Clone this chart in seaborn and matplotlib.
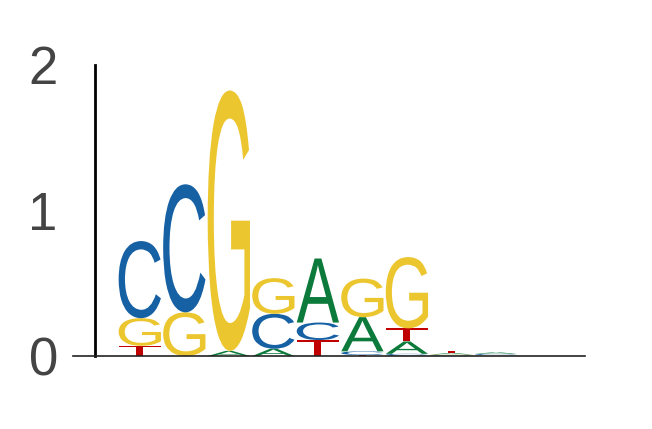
import numpy as np
import pandas as pd
import matplotlib
matplotlib.use('Agg')
from matplotlib import pyplot as plt
import seaborn as sns
from matplotlib.textpath import TextPath
from matplotlib.patches import PathPatch
from matplotlib.font_manager import FontProperties
from matplotlib.transforms import Affine2D

# letter heights (bits) for positions 1..10
positions = [1, 2, 3, 4, 5, 6, 7, 8, 9, 10]
A = [0.0, 0.0, 0.035, 0.05, 0.44, 0.235, 0.085, 0.01, 0.01, 0.0]
C = [0.53, 0.88, 0.0, 0.24, 0.12, 0.025, 0.015, 0.005, 0.008, 0.0]
G = [0.19, 0.30, 1.79, 0.245, 0.0, 0.265, 0.49, 0.005, 0.004, 0.0]
T = [0.07, 0.0, 0.0, 0.0, 0.11, 0.007, 0.09, 0.015, 0.003, 0.0]
yticks = [0, 1, 2]

df = pd.DataFrame({'A': A, 'C': C, 'G': G, 'T': T}, index=positions)
colors = {'A': '#0b7a3a', 'C': '#1660a4', 'G': '#ecc62f', 'T': '#c00000'}

sns.set_theme(style='white')
plt.rcParams['font.family'] = ['Liberation Sans', 'DejaVu Sans']

fig = plt.figure(figsize=(6.52, 4.29), dpi=100)
ax = fig.add_axes([73/652, 73/429, 512/652, 291/429])

fp = FontProperties(family='Liberation Sans')
width = 0.95

def draw_letter(ax, ch, x, y0, h, color):
    tp = TextPath((0, 0), ch, size=1, prop=fp)
    bb = tp.get_extents()
    tr = Affine2D().translate(-bb.x0, -bb.y0).scale(width / bb.width, h / bb.height).translate(x - width / 2, y0)
    ax.add_patch(PathPatch(tr.transform_path(tp), fc=color, ec='none', lw=0))

for pos, row in df.iterrows():
    y0 = 0
    for ch, h in row.sort_values().items():
        if h <= 0:
            continue
        draw_letter(ax, ch, pos, y0, h, colors[ch])
        y0 += h

ax.set_xlim(-0.5, 11)
ax.set_ylim(0, 2)
ax.set_xticks([])
ax.set_yticks(yticks)
ax.set_yticklabels([str(v) for v in yticks])
ax.tick_params(axis='y', length=0, pad=27, labelsize=38, labelcolor='#444444')
sns.despine(ax=ax, top=True, right=True)
ax.spines['left'].set_position(('data', 0))
ax.spines['left'].set_linewidth(2)
ax.spines['left'].set_color('black')
ax.spines['bottom'].set_linewidth(1.2)
ax.spines['bottom'].set_color('#222222')

fig.savefig('out.png', dpi=100)
